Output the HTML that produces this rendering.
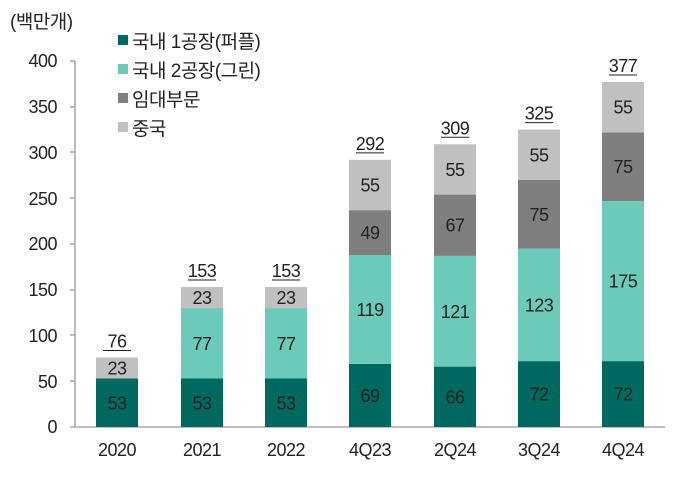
<!DOCTYPE html>
<html><head><meta charset="utf-8"><style>
html,body{margin:0;padding:0;background:#fff}
text{font-family:"Liberation Sans","Noto Sans CJK KR",sans-serif;fill:#222;letter-spacing:-0.5px}
</style></head><body>
<svg width="680" height="472" xmlns="http://www.w3.org/2000/svg">
<text x="10" y="28" font-size="19">(백만개)</text>
<g font-size="18" text-anchor="end">
<text x="57" y="433">0</text><text x="57" y="388">50</text><text x="57" y="342">100</text>
<text x="57" y="296">150</text><text x="57" y="250">200</text><text x="57" y="205">250</text>
<text x="57" y="159">300</text><text x="57" y="113">350</text><text x="57" y="67">400</text>
</g>
<g stroke="#999" stroke-width="1.3">
<line x1="75" y1="61" x2="75" y2="427"/><line x1="70" y1="427" x2="665" y2="427"/>
<line x1="70" y1="61" x2="75" y2="61"/><line x1="70" y1="107" x2="75" y2="107"/>
<line x1="70" y1="152" x2="75" y2="152"/><line x1="70" y1="198" x2="75" y2="198"/>
<line x1="70" y1="244" x2="75" y2="244"/><line x1="70" y1="290" x2="75" y2="290"/>
<line x1="70" y1="335" x2="75" y2="335"/><line x1="70" y1="381" x2="75" y2="381"/>
</g>
<g font-size="19">
<rect x="118" y="35" width="10" height="10" fill="#00695f"/><text x="132" y="48">국내 1공장(퍼플)</text>
<rect x="118" y="64" width="10" height="10" fill="#6ccabb"/><text x="132" y="77">국내 2공장(그린)</text>
<rect x="118" y="93" width="10" height="10" fill="#7f7f7f"/><text x="132" y="106">임대부문</text>
<rect x="118" y="122" width="10" height="10" fill="#c0c0c0"/><text x="132" y="135">중국</text>
</g>
<g id="bars"></g>
</svg>
<script>
var data=[["2020",117,[53,0,0,23],76],["2021",202,[53,77,0,23],153],["2022",286,[53,77,0,23],153],
["4Q23",370,[69,119,49,55],292],["2Q24",455,[66,121,67,55],309],["3Q24",539,[72,123,75,55],325],["4Q24",623,[72,175,75,55],377]];
var cols=["#00695f","#6ccabb","#7f7f7f","#c0c0c0"];var s=0.915,b=427,h="";
data.forEach(function(d){var c=d[1],acc=0;
d[2].forEach(function(v,i){if(!v)return;var y0=b-acc*s,y1=b-(acc+v)*s;
h+='<rect x="'+(c-21)+'" y="'+y1+'" width="42" height="'+(y0-y1)+'" fill="'+cols[i]+'"/>';
h+='<text x="'+c+'" y="'+((y0+y1)/2+6.5)+'" font-size="18" text-anchor="middle">'+v+'</text>';acc+=v;});
var ty=b-acc*s-10;
h+='<text x="'+c+'" y="'+ty+'" font-size="18" text-anchor="middle">'+d[3]+'</text>';
h+='<line x1="'+(c-14)+'" y1="'+(ty+3)+'" x2="'+(c+14)+'" y2="'+(ty+3)+'" stroke="#222" stroke-width="1"/>';
h+='<text x="'+c+'" y="456" font-size="18" text-anchor="middle">'+d[0]+'</text>';});
document.getElementById("bars").innerHTML=h;
</script>
</body></html>
